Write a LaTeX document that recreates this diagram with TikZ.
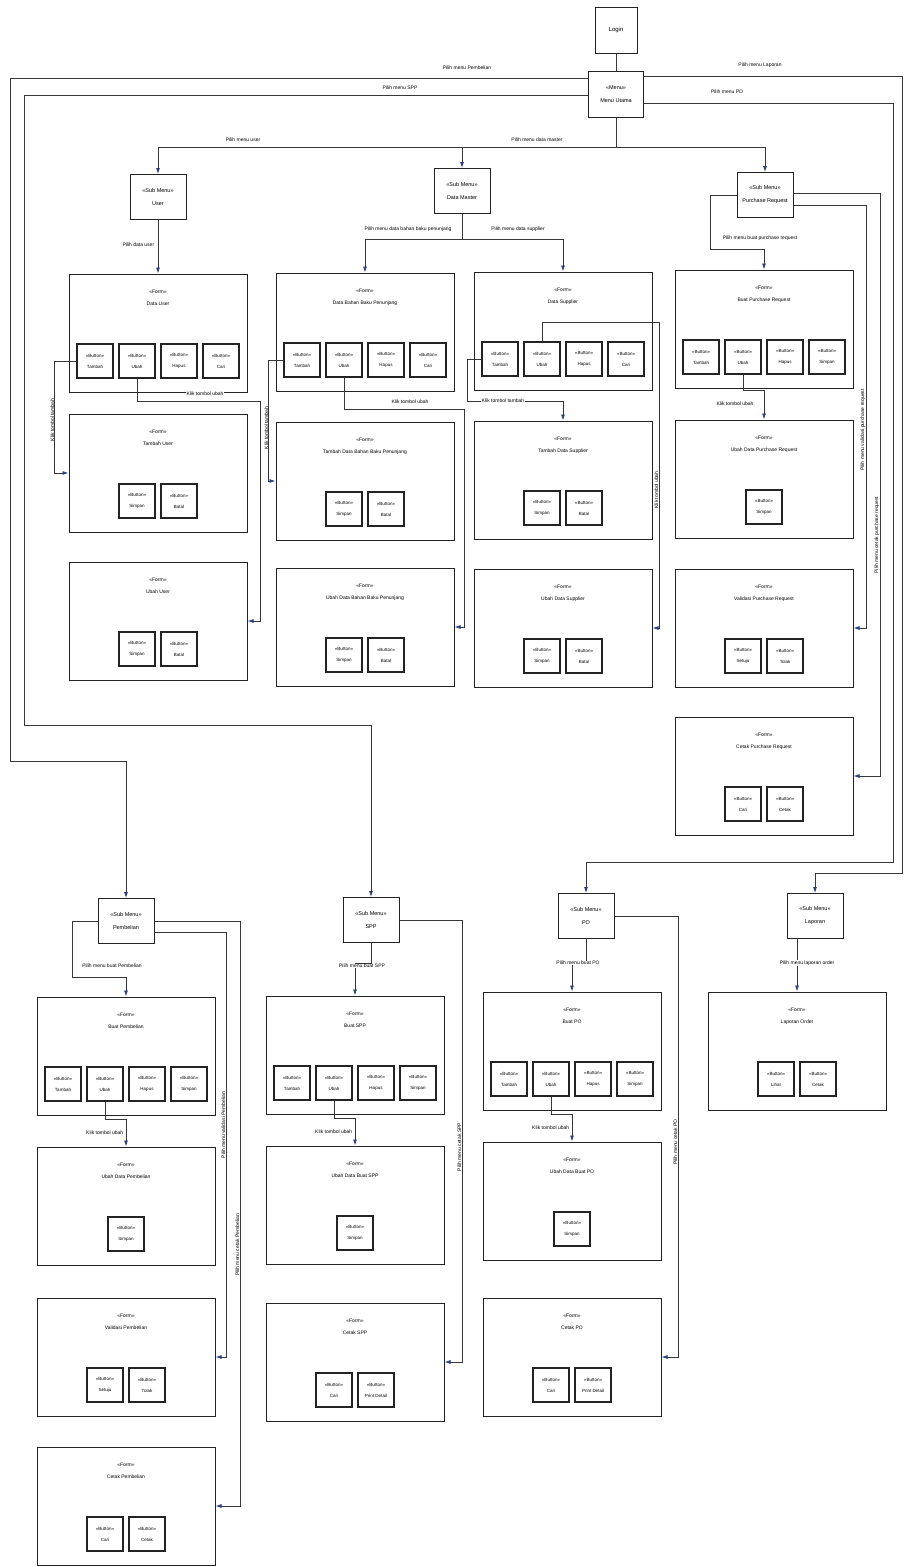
\documentclass[tikz,border=0pt]{standalone}
\usepackage{fontspec}
\setmainfont{Liberation Sans}
\definecolor{umlline}{RGB}{55,55,55}
\definecolor{umledge}{RGB}{35,35,35}
\definecolor{umlarrow}{RGB}{35,65,140}
\usetikzlibrary{arrows.meta,positioning,calc}

\begin{document}
\begin{tikzpicture}[x=1pt, y=-1pt,
    menubox/.style={rectangle, draw=umledge, line width=1pt, fill=white, minimum width=56pt,
      minimum height=45pt, align=center, font=\fontsize{5.5}{13}\selectfont},
    formbox/.style={rectangle, draw=umledge, line width=1pt, fill=white, minimum width=178pt,
      minimum height=118pt},
    ftitle/.style={anchor=north, yshift=-13pt, align=center, font=\fontsize{5}{12}\selectfont},
    btnbox/.style={rectangle, draw=umledge, line width=1.2pt, fill=white, minimum width=36pt,
      minimum height=34pt, align=center, font=\fontsize{4.5}{11}\selectfont},
    conn/.style={draw=umlline, line width=0.8pt, -{Latex[length=6pt,width=4pt,color=umlarrow]}},
    lbl/.style={font=\fontsize{5}{6}\selectfont, inner sep=0.6pt, fill=white},
    vlbl/.style={lbl, fill=none, rotate=90, anchor=south}
  ]
    \path[use as bounding box, fill=white] (0,0) rectangle (904,1567);

    % menu utama
    \node[menubox, minimum width=42pt, minimum height=46pt, font=\fontsize{6}{7}\selectfont] (login) at (616,30) {Login};
    \node[menubox, minimum width=55pt, minimum height=46pt] (menu) at (616,94) {«Menu»\\Menu Utama};

    % sub menu
    \node[menubox] (subUser) at (158,197) {«Sub Menu»\\User};
    \node[menubox] (subDM)   at (462,191) {«Sub Menu»\\Data Master};
    \node[menubox] (subPR)   at (765,195) {«Sub Menu»\\Purchase Request};
    \node[menubox] (subPemb) at (126,921) {«Sub Menu»\\Pembelian};
    \node[menubox] (subSPP)  at (371,920) {«Sub Menu»\\SPP};
    \node[menubox] (subPO)   at (586,916) {«Sub Menu»\\PO};
    \node[menubox] (subLap)  at (815,916) {«Sub Menu»\\Laporan};

    % form
    \node[formbox, label={[ftitle]north:{«Form»\\Data User}}]   (fDataUser)   at (158,333) {};
    \node[formbox, label={[ftitle]north:{«Form»\\Tambah User}}] (fTambahUser) at (158,473) {};
    \node[formbox, label={[ftitle]north:{«Form»\\Ubah User}}]   (fUbahUser)   at (158,621) {};
    \node[formbox, label={[ftitle]north:{«Form»\\Data Bahan Baku Penunjang}}]        (fDataBBP)   at (365,332) {};
    \node[formbox, label={[ftitle]north:{«Form»\\Tambah Data Bahan Baku Penunjang}}] (fTambahBBP) at (365,481) {};
    \node[formbox, label={[ftitle]north:{«Form»\\Ubah Data Bahan Baku Penunjang}}]   (fUbahBBP)   at (365,627) {};
    \node[formbox, label={[ftitle]north:{«Form»\\Data Supplier}}]        (fDataSup)   at (563,331) {};
    \node[formbox, label={[ftitle]north:{«Form»\\Tambah Data Supplier}}] (fTambahSup) at (563,480) {};
    \node[formbox, label={[ftitle]north:{«Form»\\Ubah Data Supplier}}]   (fUbahSup)   at (563,628) {};
    \node[formbox, label={[ftitle]north:{«Form»\\Buat Purchase Request}}]      (fBuatPR)  at (764,329) {};
    \node[formbox, label={[ftitle]north:{«Form»\\Ubah Data Purchase Request}}] (fUbahPR)  at (764,479) {};
    \node[formbox, label={[ftitle]north:{«Form»\\Validasi Purchase Request}}]  (fValidPR) at (764,628) {};
    \node[formbox, label={[ftitle]north:{«Form»\\Cetak Purchase Request}}]     (fCetakPR) at (764,776) {};
    \node[formbox, label={[ftitle]north:{«Form»\\Buat Pembelian}}]      (fBuatPemb)  at (126,1056) {};
    \node[formbox, label={[ftitle]north:{«Form»\\Ubah Data Pembelian}}] (fUbahPemb)  at (126,1206) {};
    \node[formbox, label={[ftitle]north:{«Form»\\Validasi Pembelian}}]  (fValidPemb) at (126,1357) {};
    \node[formbox, label={[ftitle]north:{«Form»\\Cetak Pembelian}}]     (fCetakPemb) at (126,1506) {};
    \node[formbox, label={[ftitle]north:{«Form»\\Buat SPP}}]           (fBuatSPP)  at (355,1055) {};
    \node[formbox, label={[ftitle]north:{«Form»\\Ubah Data Buat SPP}}] (fUbahSPP)  at (355,1205) {};
    \node[formbox, label={[ftitle]north:{«Form»\\Cetak SPP}}]          (fCetakSPP) at (355,1362) {};
    \node[formbox, label={[ftitle]north:{«Form»\\Buat PO}}]           (fBuatPO)  at (572,1051) {};
    \node[formbox, label={[ftitle]north:{«Form»\\Ubah Data Buat PO}}] (fUbahPO)  at (572,1201) {};
    \node[formbox, label={[ftitle]north:{«Form»\\Cetak PO}}]          (fCetakPO) at (572,1357) {};
    \node[formbox, label={[ftitle]north:{«Form»\\Laporan Order}}]     (fLapOrder) at (797,1051) {};

    % button
    \foreach \f in {DataUser,DataBBP,DataSup}
      \foreach \bt [count=\i] in {Tambah,Ubah,Hapus,Cari}
        \node[btnbox] (b\f\i) at ($(f\f)+(-105+42*\i,28)$) {«Button»\\\bt};
    \foreach \f in {BuatPR,BuatPemb,BuatSPP,BuatPO}
      \foreach \bt [count=\i] in {Tambah,Ubah,Hapus,Simpan}
        \node[btnbox] (b\f\i) at ($(f\f)+(-105+42*\i,28)$) {«Button»\\\bt};
    \foreach \f in {TambahUser,UbahUser,TambahBBP,UbahBBP,TambahSup,UbahSup}
      \foreach \bt [count=\i] in {Simpan,Batal}
        \node[btnbox] (b\f\i) at ($(f\f)+(-63+42*\i,28)$) {«Button»\\\bt};
    \foreach \f in {ValidPR,ValidPemb}
      \foreach \bt [count=\i] in {Setuju,Tolak}
        \node[btnbox] (b\f\i) at ($(f\f)+(-63+42*\i,28)$) {«Button»\\\bt};
    \foreach \f in {CetakPR,CetakPemb}
      \foreach \bt [count=\i] in {Cari,Cetak}
        \node[btnbox] (b\f\i) at ($(f\f)+(-63+42*\i,28)$) {«Button»\\\bt};
    \foreach \f in {CetakSPP,CetakPO}
      \foreach \bt [count=\i] in {Cari,Print Detail}
        \node[btnbox] (b\f\i) at ($(f\f)+(-63+42*\i,28)$) {«Button»\\\bt};
    \foreach \bt [count=\i] in {Lihat,Cetak}
      \node[btnbox] (bLapOrder\i) at ($(fLapOrder)+(-63+42*\i,28)$) {«Button»\\\bt};
    \foreach \f in {UbahPR,UbahPemb,UbahSPP,UbahPO}
      \node[btnbox] (b\f1) at ($(f\f)+(0,28)$) {«Button»\\Simpan};

    % menu utama connectors
    \draw[draw=umlline, line width=0.8pt] (login) -- (menu);
    \draw[conn] (menu.south) -- ++(0,30) -| (subUser.north);
    \draw[conn] (menu.south) -- ++(0,30) -| (subDM.north);
    \draw[conn] (menu.south) -- ++(0,30) -| (subPR.north);
    \draw[conn] ([yshift=16pt]menu.west) -| (10,761) -| (subPemb.north);
    \draw[conn] ([yshift=-1pt]menu.west) -| (24,725) -| (subSPP.north);
    \draw[conn] ([yshift=18pt]menu.east) -| (902,873) -| (subLap.north);
    \draw[conn] ([yshift=-9pt]menu.east) -| (893,862) -| (subPO.north);

    % user
    \draw[conn] (subUser) -- (fDataUser);
    \draw[conn] (bDataUser1.west) -- ++(-22,0) |- (fTambahUser.west);
    \draw[conn] (bDataUser2.south) |- (260,401) |- (fUbahUser.east);

    % data master
    \draw[conn] (subDM.south) -- ++(0,25) -| (fDataBBP.north);
    \draw[conn] (subDM.south) -- ++(0,25) -| (fDataSup.north);
    \draw[conn] (bDataBBP1.west) -- ++(-15,0) |- (fTambahBBP.west);
    \draw[conn] (bDataBBP2.south) |- (464,409) |- (fUbahBBP.east);
    \draw[conn] (bDataSup1.west) -| (467,401) -| (fTambahSup.north);
    \draw[conn] (bDataSup2.north) |- (659,322) |- (fUbahSup.east);

    % purchase request
    \draw[conn] (subPR.west) -| (710,249) -| (fBuatPR.north);
    \draw[conn] (bBuatPR2.south) -- ++(0,16) -| (fUbahPR.north);
    \draw[conn] ([yshift=-10pt]subPR.east) -- ++(73,0) |- (fValidPR.east);
    \draw[conn] ([yshift=2pt]subPR.east) -- ++(87,0) |- (fCetakPR.east);

    % pembelian
    \draw[conn] (subPemb.west) -| (72,977) -| (fBuatPemb.north);
    \draw[conn] (bBuatPemb2.south) -- ++(0,18) -| (fUbahPemb.north);
    \draw[conn] ([yshift=-11pt]subPemb.east) -- ++(72,0) |- (fValidPemb.east);
    \draw[conn] (subPemb.east) -- ++(86,0) |- (fCetakPemb.east);

    % spp
    \draw[conn] (subSPP.south) -- ++(0,20) -| (fBuatSPP.north);
    \draw[conn] (bBuatSPP2.south) -- ++(0,18) -| (fUbahSPP.north);
    \draw[conn] (subSPP.east) -- ++(63,0) |- (fCetakSPP.east);

    % po
    \draw[conn] (subPO.south) -- ++(0,22) -| (fBuatPO.north);
    \draw[conn] (bBuatPO2.south) -- ++(0,18) -| (fUbahPO.north);
    \draw[conn] (subPO.east) -- ++(64,0) |- (fCetakPO.east);

    % laporan
    \draw[conn] (subLap.south -| fLapOrder.north) -- (fLapOrder.north);

    % connector labels
    \node[lbl] at (467,68)  {Pilih menu Pembelian};
    \node[lbl] at (400,88)  {Pilih menu SPP};
    \node[lbl] at (760,65)  {Pilih menu Laporan};
    \node[lbl] at (727,92)  {Pilih menu PO};
    \node[lbl] at (243,140) {Pilih menu user};
    \node[lbl] at (537,140) {Pilih menu data master};
    \node[lbl, anchor=east] at (155,245) {Pilih data user};
    \node[lbl] at (408,229) {Pilih menu data bahan baku penunjang};
    \node[lbl] at (518,229) {Pilih menu data supplier};
    \node[lbl] at (760,238) {Pilih menu buat purchase request};
    \node[vlbl] at (55,420)  {Klik tombol tambah};
    \node[lbl]  at (205,394) {Klik tombol ubah};
    \node[vlbl] at (269,428) {Klik tombol tambah};
    \node[lbl]  at (410,402) {Klik tombol ubah};
    \node[lbl]  at (503,401) {Klik tombol tambah};
    \node[vlbl] at (659,490) {Klik tombol ubah};
    \node[lbl]  at (735,404) {Klik tombol ubah};
    \node[vlbl] at (866,430) {Pilih menu validasi purchase request};
    \node[vlbl] at (880,535) {Pilih menu cetak purchase request};
    \node[lbl] at (112,966) {Pilih menu buat Pembelian};
    \node[lbl, anchor=east] at (124,1133) {Klik tombol ubah};
    \node[vlbl] at (226,1125) {Pilih menu validasi Pembelian};
    \node[vlbl] at (240,1245) {Pilih menu cetak Pembelian};
    \node[lbl] at (362,966) {Pilih menu buat SPP};
    \node[lbl, anchor=east] at (353,1132) {Klik tombol ubah};
    \node[vlbl] at (462,1147) {Pilih menu cetak SPP};
    \node[lbl] at (578,963) {Pilih menu buat PO};
    \node[lbl, anchor=east] at (570,1128) {Klik tombol ubah};
    \node[vlbl] at (678,1142) {Pilih menu cetak PO};
    \node[lbl] at (807,963) {Pilih menu laporan order};
  \end{tikzpicture}
\end{document}
